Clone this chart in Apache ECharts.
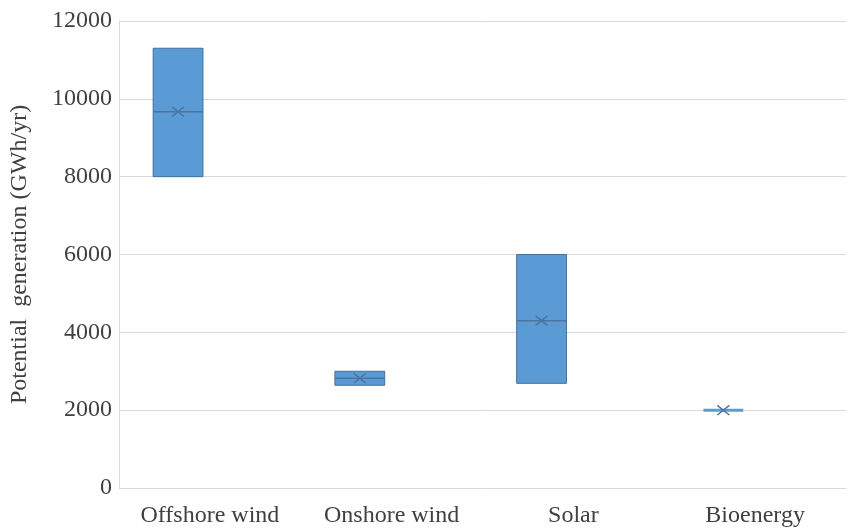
<!DOCTYPE html>
<html>
<head>
<meta charset="utf-8">
<script src="https://cdn.jsdelivr.net/npm/echarts@6/dist/echarts.min.js"></script>
<style>
  html, body { margin: 0; padding: 0; background: #fff; }
  #chart { width: 848px; height: 529px; }
</style>
</head>
<body>
<div id="chart"></div>
<script>
// Generation ranges per technology (GWh/yr)
var categories = ['Offshore wind', 'Onshore wind', 'Solar', 'Bioenergy'];
var lowValues = [8000, 2640, 2690, 2000];
var highValues = [11300, 3000, 6000, 2000];
var medianValues = [9670, 2820, 4300, 2000];
var meanValues = [9670, 2820, 4300, 2000];
var yTicks = [0, 2000, 4000, 6000, 8000, 10000, 12000];

var seriesData = categories.map(function (c, i) {
  return [i, lowValues[i], highValues[i], medianValues[i], meanValues[i]];
});

var fillColor = '#5B9BD5';
var edgeColor = '#41719C';
var markColor = '#4E73A0';
var serif = '"Liberation Serif", "DejaVu Serif", serif';

// Floating box per category with a median line and an × for the mean
function renderBox(params, api) {
  var idx = api.value(0);
  var band = api.size([1, 0])[0];
  var offset = -0.175 * band;
  var halfW = 0.137 * band;
  var pLow = api.coord([idx, api.value(1)]);
  var pHigh = api.coord([idx, api.value(2)]);
  var pMed = api.coord([idx, api.value(3)]);
  var pMean = api.coord([idx, api.value(4)]);
  var cx = pLow[0] + offset;
  var children = [];
  var h = pLow[1] - pHigh[1];
  if (h > 2) {
    children.push({
      type: 'rect',
      shape: { x: cx - halfW, y: pHigh[1], width: halfW * 2, height: h },
      style: { fill: fillColor, stroke: edgeColor, lineWidth: 1 }
    });
    children.push({
      type: 'line',
      shape: { x1: cx - halfW, y1: pMed[1], x2: cx + halfW, y2: pMed[1] },
      style: { stroke: markColor, lineWidth: 1.5 }
    });
  } else {
    children.push({
      type: 'line',
      shape: { x1: cx - halfW * 0.8, y1: pMed[1], x2: cx + halfW * 0.8, y2: pMed[1] },
      style: { stroke: fillColor, lineWidth: 3 }
    });
  }
  var s = 6;
  children.push({
    type: 'line',
    shape: { x1: cx - s, y1: pMean[1] - s * 0.8, x2: cx + s, y2: pMean[1] + s * 0.8 },
    style: { stroke: markColor, lineWidth: 1.5 }
  });
  children.push({
    type: 'line',
    shape: { x1: cx - s, y1: pMean[1] + s * 0.8, x2: cx + s, y2: pMean[1] - s * 0.8 },
    style: { stroke: markColor, lineWidth: 1.5 }
  });
  return { type: 'group', children: children };
}

var chart = echarts.init(document.getElementById('chart'), null, { renderer: 'canvas' });
chart.setOption({
  animation: false,
  backgroundColor: '#ffffff',
  textStyle: { fontFamily: serif },
  grid: { left: 115, right: 2, top: 21, bottom: 41, containLabel: false },
  xAxis: {
    type: 'category',
    data: categories,
    axisLine: { show: true, lineStyle: { color: '#d9d9d9', width: 1 } },
    axisTick: { show: false },
    axisLabel: { color: '#404040', fontSize: 24, margin: 16, fontFamily: serif }
  },
  yAxis: {
    type: 'value',
    min: yTicks[0],
    max: yTicks[yTicks.length - 1],
    interval: 2000,
    name: 'Potential  generation (GWh/yr)',
    nameLocation: 'middle',
    nameGap: 87,
    nameTextStyle: { color: '#404040', fontSize: 24, fontFamily: serif },
    axisLine: { show: true, lineStyle: { color: '#d9d9d9', width: 1 } },
    axisTick: { show: false },
    axisLabel: {
      color: '#404040', fontSize: 24, margin: 7, fontFamily: serif,
      formatter: function (v) { return String(v); }
    },
    splitLine: { show: true, lineStyle: { color: '#d9d9d9', width: 1 } }
  },
  series: [{
    type: 'custom',
    renderItem: renderBox,
    encode: { x: 0, y: [1, 2] },
    data: seriesData
  }]
});
</script>
</body>
</html>
